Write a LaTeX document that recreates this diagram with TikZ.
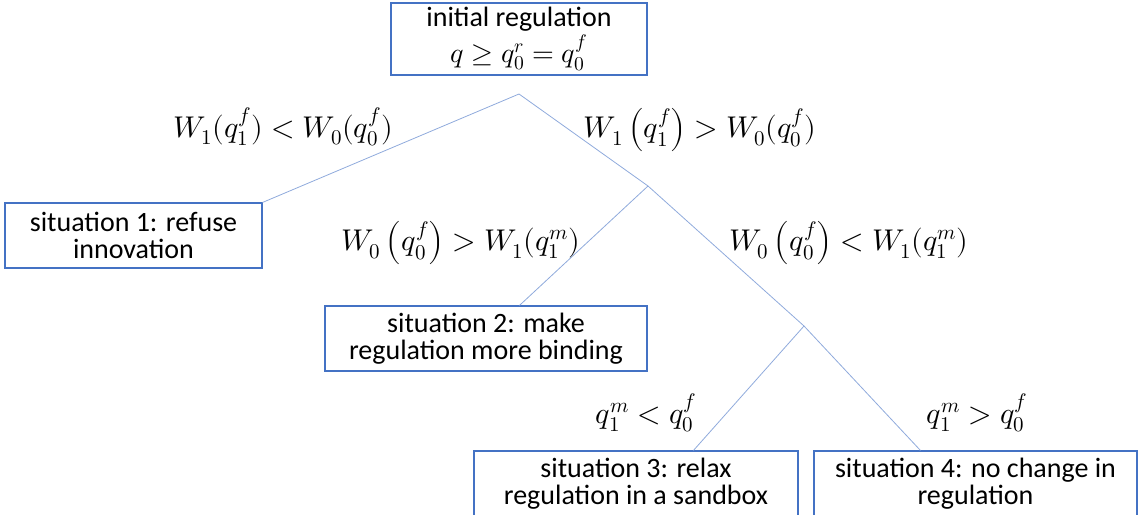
\documentclass[tikz,border=0pt]{standalone}
\usepackage{fontspec}
\usepackage{unicode-math}
\setmainfont{Carlito}
\setmathfont{Latin Modern Math}
\usetikzlibrary{calc}

\definecolor{boxblue}{RGB}{68,114,196}
\definecolor{lineblue}{RGB}{143,170,220}

\tikzset{
  stbox/.style={draw=boxblue, line width=1.1pt, align=center, inner sep=2pt,
    font=\fontsize{28}{27}\selectfont},
  branch/.style={draw=lineblue, line width=0.8pt},
  cond/.style={font=\fontsize{30}{30}\selectfont},
}

\begin{document}
\begin{tikzpicture}[%
      x=1pt, y=-1pt,
      ]
      \useasboundingbox (0,0) rectangle (1139,514);
      \clip (0,0) rectangle (1139,514);

      \node[stbox, minimum width=256pt, minimum height=72pt] (init) at (519,39)
        {initial regulation\\[2pt] $q \geq q_0^r = q_0^f$};
      \node[stbox, minimum width=257pt, minimum height=65pt] (sit1) at (133.5,235.5)
        {situation 1: refuse\\ innovation};
      \node[stbox, minimum width=322pt, minimum height=65pt] (sit2) at (486,338.5)
        {situation 2: make\\ regulation more binding};
      \node[stbox, minimum width=324pt, minimum height=66pt] (sit3) at (636,484)
        {situation 3: relax\\ regulation in a sandbox};
      \node[stbox, minimum width=323pt, minimum height=66pt] (sit4) at (975.5,484)
        {situation 4: no change in\\ regulation};

      \coordinate (b1) at (519,94);
      \coordinate (b2) at (648,186);
      \coordinate (b3) at (804,326);

      \draw[branch] (b1) -- (sit1.north east);
      \draw[branch] (b1) -- (b2);
      \draw[branch] (b2) -- ($(sit2.north west)+(195,0)$);
      \draw[branch] (b2) -- (b3);
      \draw[branch] (b3) -- ($(sit3.north west)+(220,0)$);
      \draw[branch] (b3) -- ($(sit4.north west)+(107,0)$);

      \node[cond] (c1) at (283,127) {$W_1(q_1^f) < W_0(q_0^f)$};
      \node[cond] (c2) at (700,130) {$W_1\left(q_1^f\right) > W_0(q_0^f)$};
      \node[cond] (c3) at (461,243) {$W_0\left(q_0^f\right) > W_1(q_1^m)$};
      \node[cond] (c4) at (849,243) {$W_0\left(q_0^f\right) < W_1(q_1^m)$};
      \node[cond] (c5) at (646,413) {$q_1^m < q_0^f$};
      \node[cond] (c6) at (977,413) {$q_1^m > q_0^f$};
\end{tikzpicture}
\end{document}
